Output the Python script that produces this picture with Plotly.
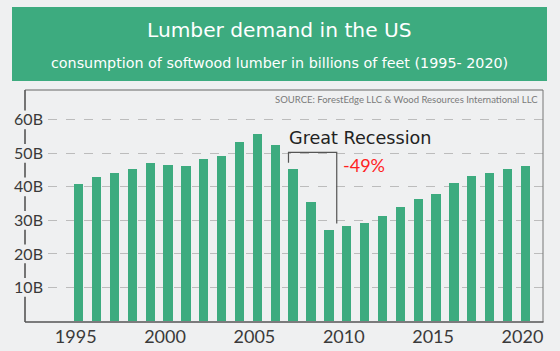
import plotly.graph_objects as go

years = list(range(1995, 2021))
consumption = [41.0, 42.9, 44.2, 45.3, 47.0, 46.5, 46.1, 48.4, 49.1, 53.4,
               55.7, 52.4, 45.3, 35.5, 27.1, 28.4, 29.1, 31.4, 34.1, 36.5,
               37.9, 41.1, 43.2, 44.2, 45.3, 46.2]
x_ticks = [1995, 2000, 2005, 2010, 2015, 2020]
y_ticks = [10, 20, 30, 40, 50, 60]
y_labels = ["10B", "20B", "30B", "40B", "50B", "60B"]

title = "Lumber demand in the US"
subtitle = "consumption of softwood lumber in billions of feet (1995- 2020)"
source = "SOURCE: ForestEdge LLC & Wood Resources International LLC"
recession_label = "Great Recession"
recession_change = "-49%"
recession_start, recession_end = 2007, 2009

W, H = 560, 351
BG = "#eff0f1"
GREEN = "#3dab7f"
FONT = "Lato"
WIDE = "DejaVu Sans"

def px(x):
    return x / W

def py(y):
    return (H - y) / H

fig = go.Figure()
fig.add_trace(go.Bar(
    x=years, y=consumption, width=0.52,
    marker=dict(color=GREEN, line=dict(width=0)),
    hoverinfo="x+y",
))

shapes = []
# title banner
shapes.append(dict(type="rect", xref="paper", yref="paper",
                   x0=px(12), x1=px(547), y0=py(81), y1=py(7),
                   fillcolor=GREEN, line=dict(width=0), layer="below"))
# frame: top, right, bottom
frame_col = "#555555"
shapes.append(dict(type="line", xref="paper", yref="paper",
                   x0=px(25), x1=px(543), y0=py(90), y1=py(90),
                   line=dict(color="#666666", width=1)))
shapes.append(dict(type="line", xref="paper", yref="paper",
                   x0=px(543), x1=px(543), y0=py(90), y1=py(322),
                   line=dict(color="#777777", width=1)))
shapes.append(dict(type="line", xref="paper", yref="paper",
                   x0=px(25), x1=px(543.5), y0=py(322), y1=py(322),
                   line=dict(color=frame_col, width=1.6)))
# left axis line broken around tick labels
gap = 2.8
segs = []
lo = -1.0
for t in y_ticks:
    segs.append((lo, t - gap))
    lo = t + gap
segs.append((lo, 80))
for a, b in segs:
    shapes.append(dict(type="line", xref="paper", yref="y",
                       x0=px(25), x1=px(25), y0=a, y1=b,
                       line=dict(color=frame_col, width=1.6)))
# recession bracket
bx0 = recession_start - 0.26
bx1 = recession_end + 0.44
top_y = 50.3
shapes.append(dict(type="path", xref="x", yref="y",
                   path=f"M {bx0},{consumption[years.index(recession_start)] + 1.9} "
                        f"L {bx0},{top_y} L {bx1},{top_y} "
                        f"L {bx1},{consumption[years.index(recession_end)] + 2.0}",
                   line=dict(color="#555555", width=1.2)))

annotations = [
    dict(text=title, x=px(279.5), y=py(30.5), xref="paper", yref="paper",
         showarrow=False, font=dict(family=WIDE, size=20.2, color="white"),
         xanchor="center", yanchor="middle"),
    dict(text=subtitle, x=px(279.5), y=py(63.5), xref="paper", yref="paper",
         showarrow=False, font=dict(family=WIDE, size=14.3, color="white"),
         xanchor="center", yanchor="middle"),
    dict(text=source, x=px(540), y=py(100), xref="paper", yref="paper",
         showarrow=False, font=dict(family=FONT, size=9.5, color="#7a7a7a"),
         xanchor="right", yanchor="middle"),
    dict(text=recession_label, x=2010.74, y=54.6, xref="x", yref="y",
         showarrow=False, font=dict(family=WIDE, size=17.6, color="#222222"),
         xanchor="center", yanchor="middle"),
    dict(text=recession_change, x=2010.95, y=46.5, xref="x", yref="y",
         showarrow=False, font=dict(family=FONT, size=18, color="#ff1f1f"),
         xanchor="center", yanchor="middle"),
]

fig.update_layout(
    width=W, height=H, autosize=False,
    margin=dict(l=0, r=0, t=0, b=0, pad=0),
    paper_bgcolor=BG, plot_bgcolor=BG,
    showlegend=False,
    bargap=0,
    shapes=shapes, annotations=annotations,
    font=dict(family=FONT),
    xaxis=dict(domain=[px(48), px(543)], range=[1993.282, 2020.982],
               tickvals=x_ticks, ticktext=[str(v) for v in x_ticks],
               showgrid=False, zeroline=False, showline=False, ticks="",
               ticklabelshift=-3, ticklabelstandoff=2,
               tickfont=dict(family=FONT, size=18, color="#3a3a3a")),
    yaxis=dict(domain=[py(322), py(90)], range=[-0.3, 68.9],
               tickvals=y_ticks, ticktext=y_labels,
               showgrid=True, gridcolor="#bcbcbc", gridwidth=1, griddash="dash",
               zeroline=False, showline=False, ticks="",
               ticklabelstandoff=4,
               tickfont=dict(family=FONT, size=16, color="#3a3a3a")),
)

fig.write_html("out.html")
